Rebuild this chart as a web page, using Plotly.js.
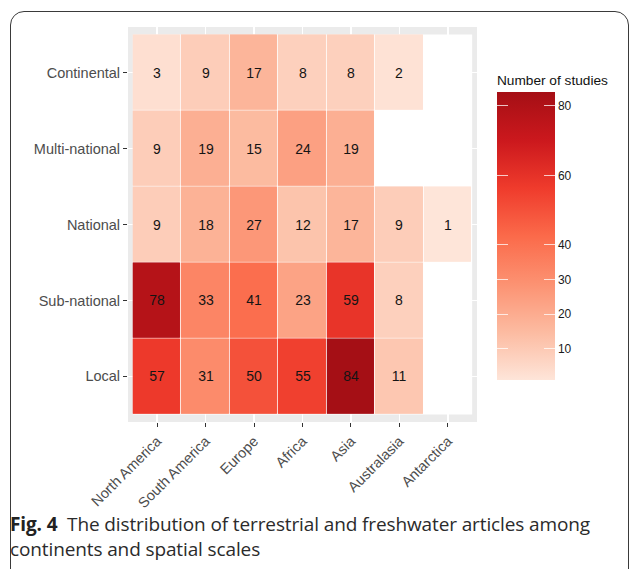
<!DOCTYPE html>
<html>
<head>
<meta charset="utf-8">
<script src="https://cdn.plot.ly/plotly-3.0.1.min.js"></script>
<style>
  html, body { margin: 0; padding: 0; background: #fff; }
  #wrap { position: relative; width: 630px; height: 569px; overflow: hidden; }
  #chart { position: absolute; left: 0; top: 0; width: 630px; height: 569px; }
  #frame { position: absolute; left: 10px; top: 11px; width: 617px; height: 600px;
           border: 1.3px solid #3a3a3a; border-radius: 14px 14px 0 0; pointer-events: none; }
  #caption { position: absolute; left: 10px; top: 512px; width: 620px;
             font-family: "Open Sans", "Noto Sans", sans-serif; font-size: 19px;
             line-height: 25px; color: #2b2b2b; letter-spacing: -0.12px; }
  #caption b { font-weight: 700; color: #222; }
</style>
</head>
<body>
<div id="wrap">
  <div id="chart"></div>
  <div id="frame"></div>
  <div id="caption"><b>Fig. 4</b>&nbsp; The distribution of terrestrial and freshwater articles among<br>continents and spatial scales</div>
</div>
<script>
// ---- data ----
const continents = ['North America', 'South America', 'Europe', 'Africa', 'Asia', 'Australasia', 'Antarctica'];
const scales = ['Local', 'Sub-national', 'National', 'Multi-national', 'Continental']; // bottom to top
const local         = [57, 31, 50, 55, 84, 11, null];
const subNational   = [78, 33, 41, 23, 59, 8, null];
const national      = [9, 18, 27, 12, 17, 9, 1];
const multiNational = [9, 19, 15, 24, 19, null, null];
const continental   = [3, 9, 17, 8, 8, 2, null];
const colorTicks = [10, 20, 30, 40, 60, 80];

const z = [local, subNational, national, multiNational, continental];
const txt = z.map(r => r.map(v => (v === null ? '' : String(v))));

const reds = [
  [0, '#fee5d9'], [1/6, '#fcbba1'], [2/6, '#fc9272'], [3/6, '#fb6a4a'],
  [4/6, '#ef3b2c'], [5/6, '#cb181d'], [1, '#a50f15']
];

const FONT = 'Liberation Sans, Arial, sans-serif';
const axisFont = { family: FONT, size: 14.5, color: '#4d4d4d' };

// main colour scale with its labelled colour bar
const main = {
  type: 'heatmap',
  x: continents, y: scales, z: z,
  colorscale: reds, zmin: 1, zmax: 84,
  xgap: 1, ygap: 1,
  hoverinfo: 'skip',
  colorbar: {
    x: 1.057, xanchor: 'left', xpad: 0,
    y: 0.496, yanchor: 'middle', ypad: 0,
    thickness: 58, thicknessmode: 'pixels',
    len: 308, lenmode: 'pixels',
    outlinewidth: 0,
    tickvals: colorTicks, tickprefix: '\u00a0',
    ticks: 'inside', ticklen: 11, tickcolor: 'rgba(255,255,255,0.75)', tickwidth: 1,
    tickfont: { family: FONT, size: 12, color: '#1a1a1a' },
    title: { text: 'Number of studies', side: 'top',
             font: { family: FONT, size: 13.7, color: '#111' } }
  }
};

// same cells drawn again on top with the value labels; its thin colour bar supplies the left-edge white ticks
const labelled = {
  type: 'heatmap',
  x: continents, y: scales, z: z,
  text: txt, texttemplate: '%{text}',
  textfont: { family: FONT, size: 14, color: '#141414' },
  colorscale: reds, zmin: 1, zmax: 84,
  xgap: 1, ygap: 1,
  hoverinfo: 'skip',
  colorbar: {
    x: 1.057, xanchor: 'left', xpad: 0,
    y: 0.471, yanchor: 'middle', ypad: 0,
    thickness: 11, thicknessmode: 'pixels',
    len: 288, lenmode: 'pixels',
    outlinewidth: 0,
    tickvals: colorTicks, showticklabels: false,
    ticks: 'inside', ticklen: 11, tickcolor: 'rgba(255,255,255,0.75)', tickwidth: 1
  }
};

const layout = {
  width: 630, height: 569,
  margin: { l: 128, r: 153, t: 27, b: 147 },
  paper_bgcolor: 'rgba(0,0,0,0)',
  plot_bgcolor: '#ffffff',
  showlegend: false,
  xaxis: {
    type: 'category', categoryarray: continents, categoryorder: 'array',
    range: [-0.6, 6.6], fixedrange: true,
    showgrid: true, gridcolor: '#ffffff', gridwidth: 1.2,
    zeroline: false, showline: false,
    ticks: 'outside', ticklen: 4, tickcolor: '#333', tickwidth: 1,
    tickangle: -45, tickfont: axisFont
  },
  yaxis: {
    type: 'category', categoryarray: scales, categoryorder: 'array',
    range: [-0.6, 4.6], fixedrange: true,
    showgrid: true, gridcolor: '#ffffff', gridwidth: 1.2,
    zeroline: false, showline: false,
    ticks: 'outside', ticklen: 4, tickcolor: '#333', tickwidth: 1,
    tickfont: axisFont
  },
  shapes: [
    { type: 'rect', xref: 'x', yref: 'y', x0: -0.6, x1: 6.6, y0: -0.6, y1: 4.6,
      fillcolor: '#ebebeb', line: { width: 0 }, layer: 'below' },
    { type: 'rect', xref: 'x', yref: 'y', x0: -0.5, x1: 6.5, y0: -0.5, y1: 4.5,
      fillcolor: '#ffffff', line: { width: 0 }, layer: 'below' }
  ]
};

Plotly.newPlot('chart', [main, labelled], layout, { staticPlot: true, displayModeBar: false });
</script>
</body>
</html>
